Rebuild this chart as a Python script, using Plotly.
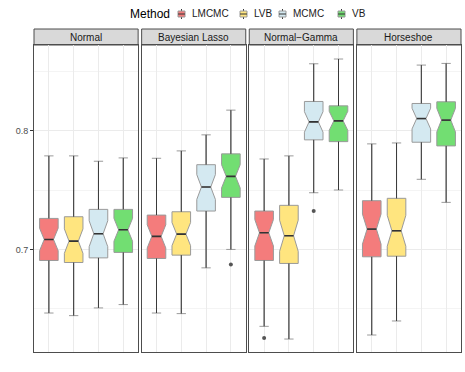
import plotly.graph_objects as go

# facets and methods
panels = ["Normal", "Bayesian Lasso", "Normal\u2212Gamma", "Horseshoe"]
methods = ["LMCMC", "LVB", "MCMC", "VB"]
fills = ["#F47C7C", "#FFE57F", "#D4E9F1", "#72DE72"]

# box stats per panel, order = methods
q1 = [
    [0.6907, 0.6890, 0.6929, 0.6975],
    [0.6924, 0.6952, 0.7323, 0.7438],
    [0.6907, 0.6882, 0.7922, 0.7907],
    [0.6938, 0.6943, 0.7902, 0.7871],
]
median = [
    [0.7084, 0.7070, 0.7132, 0.7165],
    [0.7110, 0.7129, 0.7525, 0.7615],
    [0.7140, 0.7115, 0.8073, 0.8082],
    [0.7171, 0.7157, 0.8101, 0.8088],
]
q3 = [
    [0.7261, 0.7275, 0.7337, 0.7337],
    [0.7289, 0.7317, 0.7713, 0.7804],
    [0.7323, 0.7371, 0.8245, 0.8208],
    [0.7410, 0.7430, 0.8228, 0.8242],
]
lower = [
    [0.6465, 0.6443, 0.6508, 0.6536],
    [0.6465, 0.6460, 0.6845, 0.7000],
    [0.6353, 0.6246, 0.7477, 0.7500],
    [0.6280, 0.6398, 0.7590, 0.7396],
]
upper = [
    [0.7787, 0.7787, 0.7742, 0.7770],
    [0.7767, 0.7829, 0.7964, 0.8172],
    [0.7761, 0.7787, 0.8562, 0.8602],
    [0.7888, 0.7896, 0.8551, 0.8565],
]
# outliers: (panel index, method index, value)
outliers = [
    (1, 3, 0.6873),
    (2, 0, 0.6255),
    (2, 2, 0.7323),
]
n_obs = 35

BOX_W = 0.75
fig = go.Figure()

plot_w, plot_h = 427, 323
gap = 3.5 / plot_w
pw = (1 - 3 * gap) / 4
ytop = 307 / plot_h

for p, name in enumerate(panels):
    xa = "x" if p == 0 else f"x{p + 1}"
    ya = "y" if p == 0 else f"y{p + 1}"
    for m, meth in enumerate(methods):
        iqr = q3[p][m] - q1[p][m]
        fig.add_trace(go.Box(
            x=[m + 1], q1=[q1[p][m]], median=[median[p][m]], q3=[q3[p][m]],
            lowerfence=[lower[p][m]], upperfence=[upper[p][m]],
            notchspan=[1.58 * iqr / n_obs ** 0.5],
            notched=True, notchwidth=0.25, width=BOX_W,
            fillcolor=fills[m], line=dict(color="#9a9a9a", width=1),
            name=meth, legendgroup=meth, showlegend=False,
            xaxis=xa, yaxis=ya, boxpoints=False, hoverinfo="skip",
        ))

    # darker whiskers and medians on top, as in ggplot
    wx, wy, mx, my = [], [], [], []
    for m in range(len(methods)):
        wx += [m + 1, m + 1, None, m + 1, m + 1, None]
        wy += [lower[p][m], q1[p][m], None, q3[p][m], upper[p][m], None]
        mx += [m + 1 - BOX_W / 4, m + 1 + BOX_W / 4, None]
        my += [median[p][m], median[p][m], None]
    fig.add_trace(go.Scatter(x=wx, y=wy, mode="lines", line=dict(color="#3a3a3a", width=1),
                             showlegend=False, xaxis=xa, yaxis=ya, hoverinfo="skip"))
    fig.add_trace(go.Scatter(x=mx, y=my, mode="lines", line=dict(color="#333333", width=1.6),
                             showlegend=False, xaxis=xa, yaxis=ya, hoverinfo="skip"))

    pts = [(mi, v) for (pi, mi, v) in outliers if pi == p]
    if pts:
        fig.add_trace(go.Scatter(
            x=[mi + 1 for mi, v in pts], y=[v for mi, v in pts], mode="markers",
            marker=dict(color="#555555", size=4), showlegend=False,
            xaxis=xa, yaxis=ya, hoverinfo="skip",
        ))

    x0 = p * (pw + gap)
    axx = dict(domain=[x0, x0 + pw], range=[0.4, 4.6], tickvals=[1, 2, 3, 4],
               showticklabels=False, ticks="", showgrid=True, gridcolor="#EBEBEB",
               gridwidth=1, zeroline=False, showline=True, mirror=True,
               linecolor="#4d4d4d", linewidth=1, anchor=ya)
    axy = dict(domain=[0, ytop], range=[0.6137, 0.872], tickvals=[0.7, 0.8],
               showgrid=True, gridcolor="#EBEBEB", gridwidth=1, zeroline=False,
               showline=True, mirror=True, linecolor="#4d4d4d", linewidth=1,
               minor=dict(tickvals=[0.65, 0.75, 0.85], showgrid=True,
                          gridcolor="#F4F4F4", gridwidth=0.6, ticks=""),
               anchor=xa)
    if p == 0:
        axy.update(ticks="outside", ticklen=3, tickcolor="#333333",
                   tickfont=dict(size=9, color="#4d4d4d"))
    else:
        axy.update(showticklabels=False, ticks="")
    fig.layout["xaxis" if p == 0 else f"xaxis{p + 1}"] = axx
    fig.layout["yaxis" if p == 0 else f"yaxis{p + 1}"] = axy

    # strip label
    fig.add_shape(type="rect", xref="paper", yref="paper", x0=x0, x1=x0 + pw,
                  y0=ytop, y1=1, fillcolor="#D9D9D9",
                  line=dict(color="#4d4d4d", width=1), layer="below")
    fig.add_annotation(text=name, xref="paper", yref="paper", x=x0 + pw / 2,
                       y=(ytop + 1) / 2, xanchor="center", yanchor="middle",
                       showarrow=False, font=dict(size=10, color="#1a1a1a"))


# legend drawn by hand so it stays compact like the ggplot one
def px_x(px):
    return (px - 34) / plot_w


def px_y(py):
    return (372 - 20 - py) / plot_h


leg_y = 14
fig.add_annotation(text="Method", xref="paper", yref="paper", x=px_x(128), y=px_y(leg_y),
                   xanchor="left", yanchor="middle", showarrow=False,
                   font=dict(size=12, color="#000000"))
key_x = [178, 240, 279, 338]
for m, meth in enumerate(methods):
    kx = key_x[m]
    fig.add_shape(type="line", xref="paper", yref="paper", x0=px_x(kx + 3.5), x1=px_x(kx + 3.5),
                  y0=px_y(leg_y - 5), y1=px_y(leg_y + 5), line=dict(color="#3a3a3a", width=1))
    fig.add_shape(type="rect", xref="paper", yref="paper", x0=px_x(kx), x1=px_x(kx + 7),
                  y0=px_y(leg_y - 3), y1=px_y(leg_y + 3), fillcolor=fills[m],
                  line=dict(color="#9a9a9a", width=1))
    fig.add_shape(type="line", xref="paper", yref="paper", x0=px_x(kx), x1=px_x(kx + 7),
                  y0=px_y(leg_y), y1=px_y(leg_y), line=dict(color="#333333", width=1))
    fig.add_annotation(text=meth, xref="paper", yref="paper", x=px_x(kx + 12), y=px_y(leg_y),
                       xanchor="left", yanchor="middle", showarrow=False,
                       font=dict(size=10, color="#1a1a1a"))

fig.update_layout(
    width=465, height=372,
    margin=dict(l=34, r=4, t=29, b=20, autoexpand=False),
    paper_bgcolor="white", plot_bgcolor="white",
    font=dict(family="Liberation Sans, Arial, sans-serif"),
    boxmode="overlay", showlegend=False,
)

fig.write_html("out.html", config={"displayModeBar": False},
               post_script="document.body.style.margin='0px';")
